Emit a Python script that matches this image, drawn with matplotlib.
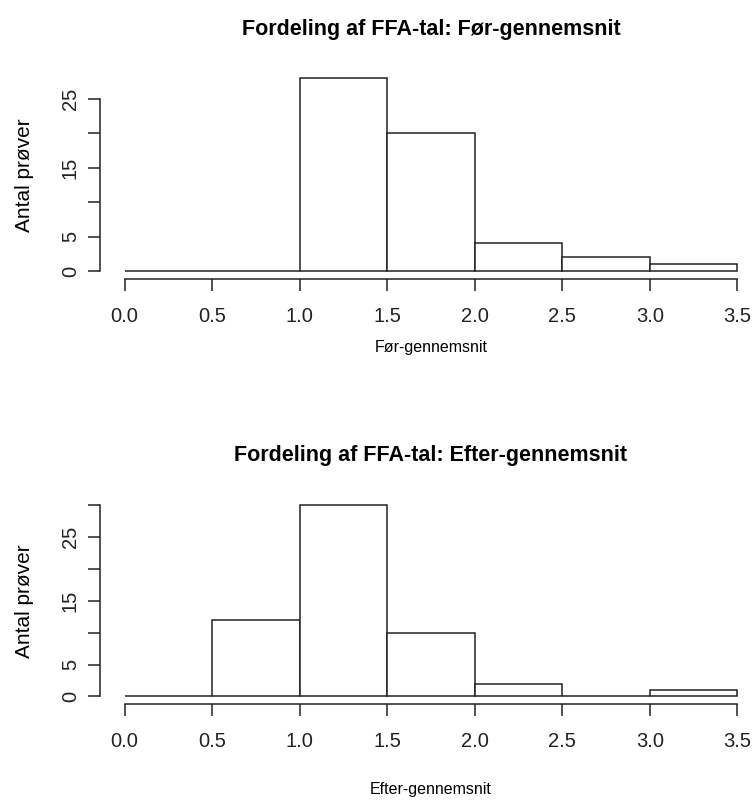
import matplotlib
matplotlib.use("Agg")
from matplotlib import pyplot as plt

plt.rcParams['font.family'] = ['Liberation Sans', 'DejaVu Sans']

# Histogram bins (left edges, width 0.5) and counts
bin_edges = [0.0, 0.5, 1.0, 1.5, 2.0, 2.5, 3.0]
bin_width = 0.5
counts_foer = [0, 0, 28, 20, 4, 2, 1]
counts_efter = [0, 12, 30, 10, 2, 0, 1]

x_ticks = [0.0, 0.5, 1.0, 1.5, 2.0, 2.5, 3.0, 3.5]
x_ticklabels = ["0.0", "0.5", "1.0", "1.5", "2.0", "2.5", "3.0", "3.5"]
y_ticks_foer = [0, 5, 10, 15, 20, 25]
y_ticks_efter = [0, 5, 10, 15, 20, 25, 30]
y_shown = {0: "0", 5: "5", 15: "15", 25: "25"}

panels = [
    ("Fordeling af FFA-tal: Før-gennemsnit", "Før-gennemsnit", counts_foer, y_ticks_foer, 28, 10),
    ("Fordeling af FFA-tal: Efter-gennemsnit", "Efter-gennemsnit", counts_efter, y_ticks_efter, 30, 22),
]

W, H = 754, 800
fig = plt.figure(figsize=(W / 100, H / 100), dpi=100)

# axes boxes in pixels: (left, top, right, bottom)
boxes = [(100, 70.7, 762, 278.7), (100, 497.6, 762, 704)]

for (title, xlabel, counts, yticks, ymax, xpad), (l, t, r, b) in zip(panels, boxes):
    ax = fig.add_axes([l / W, 1 - b / H, (r - l) / W, (b - t) / H])
    ax.bar(bin_edges, counts, width=bin_width, align="edge",
           facecolor="white", edgecolor="#222222", linewidth=1.1)
    ax.set_xlim(-0.04 * 3.5, 3.5 * 1.04)
    ax.set_ylim(-0.04 * ymax, ymax * 1.04)
    for s in ["top", "right"]:
        ax.spines[s].set_visible(False)
    for s in ["bottom", "left"]:
        ax.spines[s].set_linewidth(1.1)
        ax.spines[s].set_color("#222222")
    ax.spines["bottom"].set_bounds(0, 3.5)
    ax.spines["left"].set_bounds(yticks[0], yticks[-1])
    ax.set_xticks(x_ticks)
    ax.set_xticklabels(x_ticklabels)
    ax.set_yticks(yticks)
    ax.set_yticklabels([y_shown.get(v, "") for v in yticks], rotation=90, va="center")
    ax.tick_params(length=8.5, width=1.1, labelsize=14.5, colors="#222222")
    ax.tick_params(axis="x", pad=12)
    ax.tick_params(axis="y", pad=6)
    ax.set_title(title, fontsize=15.5, fontweight="bold", pad=26)
    ax.set_xlabel(xlabel, fontsize=11.5, labelpad=xpad)
    ax.set_ylabel("Antal prøver", fontsize=15, labelpad=19)

fig.savefig("out.png", dpi=100)
